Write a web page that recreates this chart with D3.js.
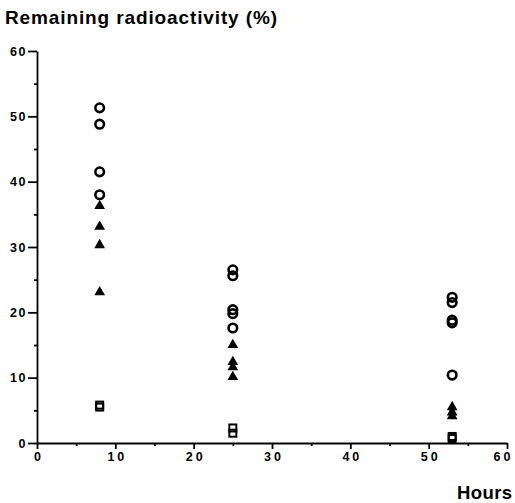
<!DOCTYPE html>
<html>
<head>
<meta charset="utf-8">
<script src="https://cdn.jsdelivr.net/npm/d3@7"></script>
<style>
body { margin: 0; background: #fff; }
text { font-family: "Liberation Sans", Arial, sans-serif; fill: #000; }
</style>
</head>
<body>
<div id="chart"></div>
<script>
// values
var hours = [8, 25, 53];
var circleVals = [[51.3, 48.8, 41.5, 38.0], [26.5, 25.6, 20.4, 19.8, 17.6], [22.3, 21.5, 18.8, 18.4, 10.4]];
var triangleVals = [[36.3, 33.1, 30.3, 23.1], [15.0, 12.4, 11.6, 10.1], [5.5, 4.7, 4.1]];
var squareVals = [[5.8, 5.5], [2.3, 1.5], [1.0, 0.7]];
var xTicks = [0, 10, 20, 30, 40, 50, 60];
var yTicks = [0, 10, 20, 30, 40, 50, 60];

var W = 515, H = 503;
var margin = {top: 51, right: 8, bottom: 60, left: 37},
    width = W - margin.left - margin.right,
    height = H - margin.top - margin.bottom;

var svg = d3.select("#chart")
  .append("svg")
    .attr("width", W)
    .attr("height", H)
  .append("g")
    .attr("transform", "translate(" + margin.left + "," + margin.top + ")");

var x = d3.scaleLinear().domain([0, 60]).range([0, width]);
var y = d3.scaleLinear().domain([0, 60]).range([height, 0]);

// flatten series into points
function flat(vals) {
  var out = [];
  vals.forEach(function(arr, i) {
    arr.forEach(function(v) { out.push({h: hours[i], v: v}); });
  });
  return out;
}

// minor ticks
svg.append("g")
  .attr("transform", "translate(0," + height + ")")
  .call(d3.axisBottom(x).tickValues(d3.range(5, 60, 10)).tickSize(3).tickFormat(""))
  .call(function(g) { g.select(".domain").remove(); });
svg.append("g")
  .call(d3.axisLeft(y).tickValues(d3.range(5, 60, 10)).tickSize(3).tickFormat(""))
  .call(function(g) { g.select(".domain").remove(); });

// X axis
var xAxis = svg.append("g")
  .attr("transform", "translate(0," + height + ")")
  .call(d3.axisBottom(x).tickValues(xTicks).tickSize(6).tickSizeOuter(0).tickPadding(3));
xAxis.selectAll("text")
  .style("font-size", "12.5px").style("font-weight", "bold")
  .style("letter-spacing", "3px")
  .attr("dx", function(d) { return d === 60 ? "-4px" : "1.5px"; });

// Y axis
var yAxis = svg.append("g")
  .call(d3.axisLeft(y).tickValues(yTicks).tickSize(9).tickSizeOuter(0).tickPadding(1));
yAxis.selectAll("text")
  .style("font-size", "12.5px").style("font-weight", "bold")
  .style("letter-spacing", "1.5px");

svg.selectAll(".domain, .tick line").attr("stroke", "#000").attr("stroke-width", 1.8);

// circles
svg.append("g").selectAll("circle")
  .data(flat(circleVals))
  .enter().append("circle")
    .attr("cx", function(d) { return x(d.h); })
    .attr("cy", function(d) { return y(d.v); })
    .attr("r", 4.3)
    .attr("fill", "none")
    .attr("stroke", "#000")
    .attr("stroke-width", 2.6);

// triangles
svg.append("g").selectAll("path")
  .data(flat(triangleVals))
  .enter().append("path")
    .attr("transform", function(d) { return "translate(" + x(d.h) + "," + y(d.v) + ")"; })
    .attr("d", d3.symbol().type(d3.symbolTriangle).size(50))
    .attr("fill", "#000");

// squares
svg.append("g").selectAll("rect")
  .data(flat(squareVals))
  .enter().append("rect")
    .attr("x", function(d) { return x(d.h) - 3.5; })
    .attr("y", function(d) { return y(d.v) - 3.5; })
    .attr("width", 7)
    .attr("height", 7)
    .attr("fill", "none")
    .attr("stroke", "#000")
    .attr("stroke-width", 2);

// titles
d3.select("svg").append("text")
  .attr("x", 5).attr("y", 24)
  .attr("textLength", 272)
  .style("font-size", "19px").style("font-weight", "bold")
  .text("Remaining radioactivity (%)");

d3.select("svg").append("text")
  .attr("x", 512).attr("y", 499)
  .attr("text-anchor", "end")
  .attr("textLength", 55)
  .style("font-size", "18.5px").style("font-weight", "bold")
  .text("Hours");
</script>
</body>
</html>
